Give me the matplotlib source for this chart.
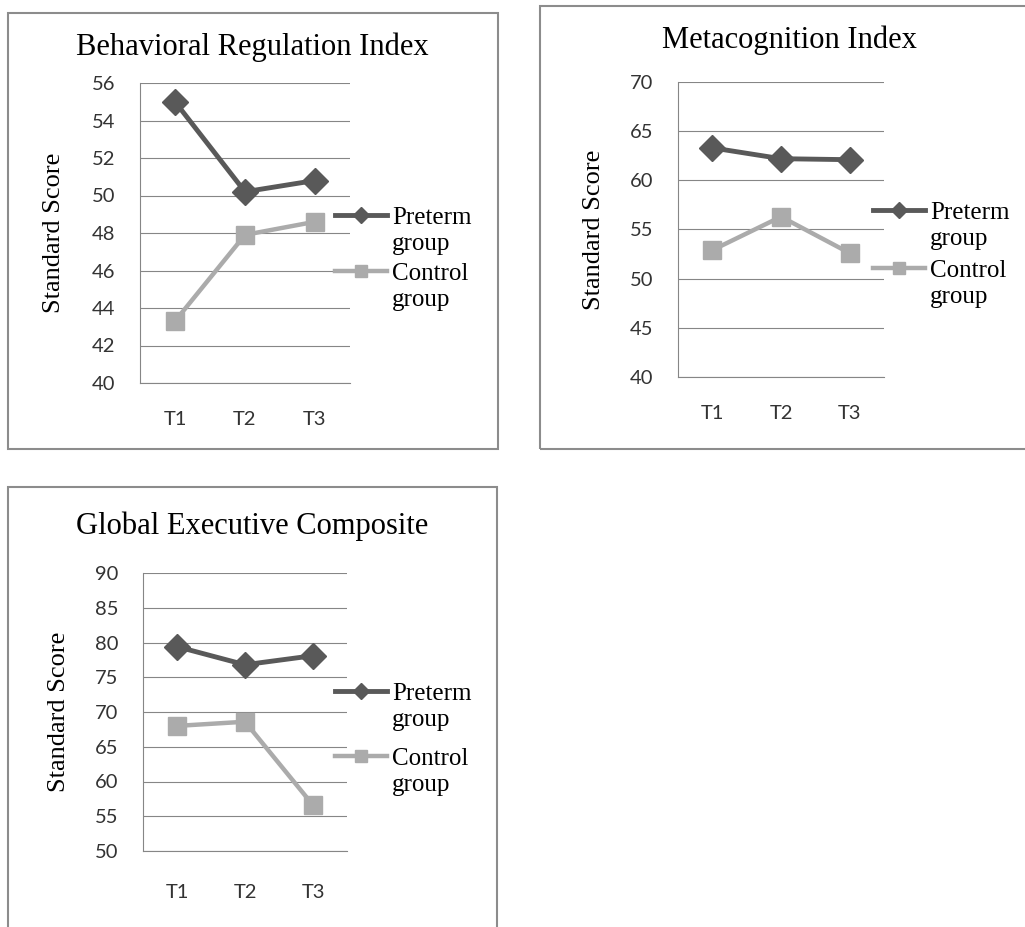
import matplotlib
matplotlib.use("Agg")
import matplotlib.pyplot as plt
from matplotlib.patches import Rectangle

# data
time_points = ["T1", "T2", "T3"]
bri_preterm = [55.0, 50.2, 50.8]
bri_control = [43.3, 47.9, 48.6]
mi_preterm = [63.3, 62.2, 62.1]
mi_control = [52.9, 56.3, 52.6]
gec_preterm = [79.4, 76.8, 78.1]
gec_control = [68.0, 68.6, 56.6]

W, H = 1025, 927
SERIF = "Liberation Serif"
SANS = "Lato"
DARK = "#595959"
LIGHT = "#ababab"
GRID = "#868686"


def fbox(x0, y0, x1, y1):
    # pixel box (top-left origin) -> figure fraction [left, bottom, w, h]
    return [x0 / W, 1 - y1 / H, (x1 - x0) / W, (y1 - y0) / H]


fig = plt.figure(figsize=(W / 100, H / 100), dpi=100)

# panel frames
frames = [(8, 13, 498, 449), (540, 6, 1030, 449), (8, 487, 497, 935)]
for x0, y0, x1, y1 in frames:
    fig.patches.append(Rectangle((x0 / W, 1 - y1 / H), (x1 - x0) / W, (y1 - y0) / H,
                                 transform=fig.transFigure, fill=False,
                                 edgecolor="#8c8c8c", linewidth=1.5))

panels = [
    dict(title="Behavioral Regulation Index", pre=bri_preterm, ctl=bri_control,
         box=(140, 83, 350, 383), ylim=(40, 56), step=2,
         title_xy=(252, 55), leg_xy=(335, 245.5), spacing=1.33, xpad=20),
    dict(title="Metacognition Index", pre=mi_preterm, ctl=mi_control,
         box=(678, 82, 884, 377), ylim=(40, 70), step=5,
         title_xy=(789, 48), leg_xy=(873, 241.5), spacing=1.41, xpad=20),
    dict(title="Global Executive Composite", pre=gec_preterm, ctl=gec_control,
         box=(143, 573, 347, 851), ylim=(50, 90), step=5,
         title_xy=(252, 534), leg_xy=(335, 726), spacing=1.69, xpad=24),
]

for p in panels:
    ax = fig.add_axes(fbox(*p["box"]))
    x = range(len(time_points))
    ax.plot(x, p["pre"], color=DARK, lw=3.5, marker="D", ms=13,
            label="Preterm", zorder=3)
    ax.plot(x, p["ctl"], color=LIGHT, lw=3.2, marker="s", ms=12.5,
            label="Control", zorder=3)

    lo, hi = p["ylim"]
    ax.set_ylim(lo, hi)
    ax.set_xlim(-0.5, len(time_points) - 0.5)
    ax.set_yticks(range(lo, hi + 1, p["step"]))
    ax.set_xticks(list(x))
    ax.set_xticklabels(time_points)
    ax.tick_params(length=0, labelsize=14.5, labelcolor="#333333")
    ax.tick_params(axis="y", pad=18)
    ax.tick_params(axis="x", pad=p["xpad"])
    for lab in ax.get_xticklabels() + ax.get_yticklabels():
        lab.set_fontfamily(SANS)

    ax.grid(axis="y", color=GRID, lw=0.8)
    ax.set_axisbelow(True)
    for s in ("top", "right"):
        ax.spines[s].set_visible(False)
    for s in ("left", "bottom"):
        ax.spines[s].set_color(GRID)
        ax.spines[s].set_linewidth(0.8)

    ax.set_ylabel("Standard Score", fontsize=19, family=SERIF, va="center")
    ax.yaxis.set_label_coords(-0.41, 0.5)

    tx, ty = p["title_xy"]
    fig.text(tx / W, 1 - ty / H, p["title"], ha="center", va="baseline",
             fontsize=22, family=SERIF)

    lx, ly = p["leg_xy"]
    leg = ax.legend(loc="center left", bbox_to_anchor=(lx / W, 1 - ly / H),
                    bbox_transform=fig.transFigure, frameon=False,
                    borderpad=0, borderaxespad=0, handlelength=2.08,
                    handletextpad=0.2, labelspacing=p["spacing"],
                    markerscale=0.65, prop={"family": SERIF, "size": 18})
    # second line of each legend label, one line below the first
    for t in leg.get_texts():
        ax.annotate("group", xy=(0, 0.5), xycoords=t, xytext=(0, -26),
                    textcoords="offset pixels", ha="left", va="center",
                    fontsize=18, family=SERIF, zorder=10, annotation_clip=False)

fig.savefig("out.png", dpi=100)
